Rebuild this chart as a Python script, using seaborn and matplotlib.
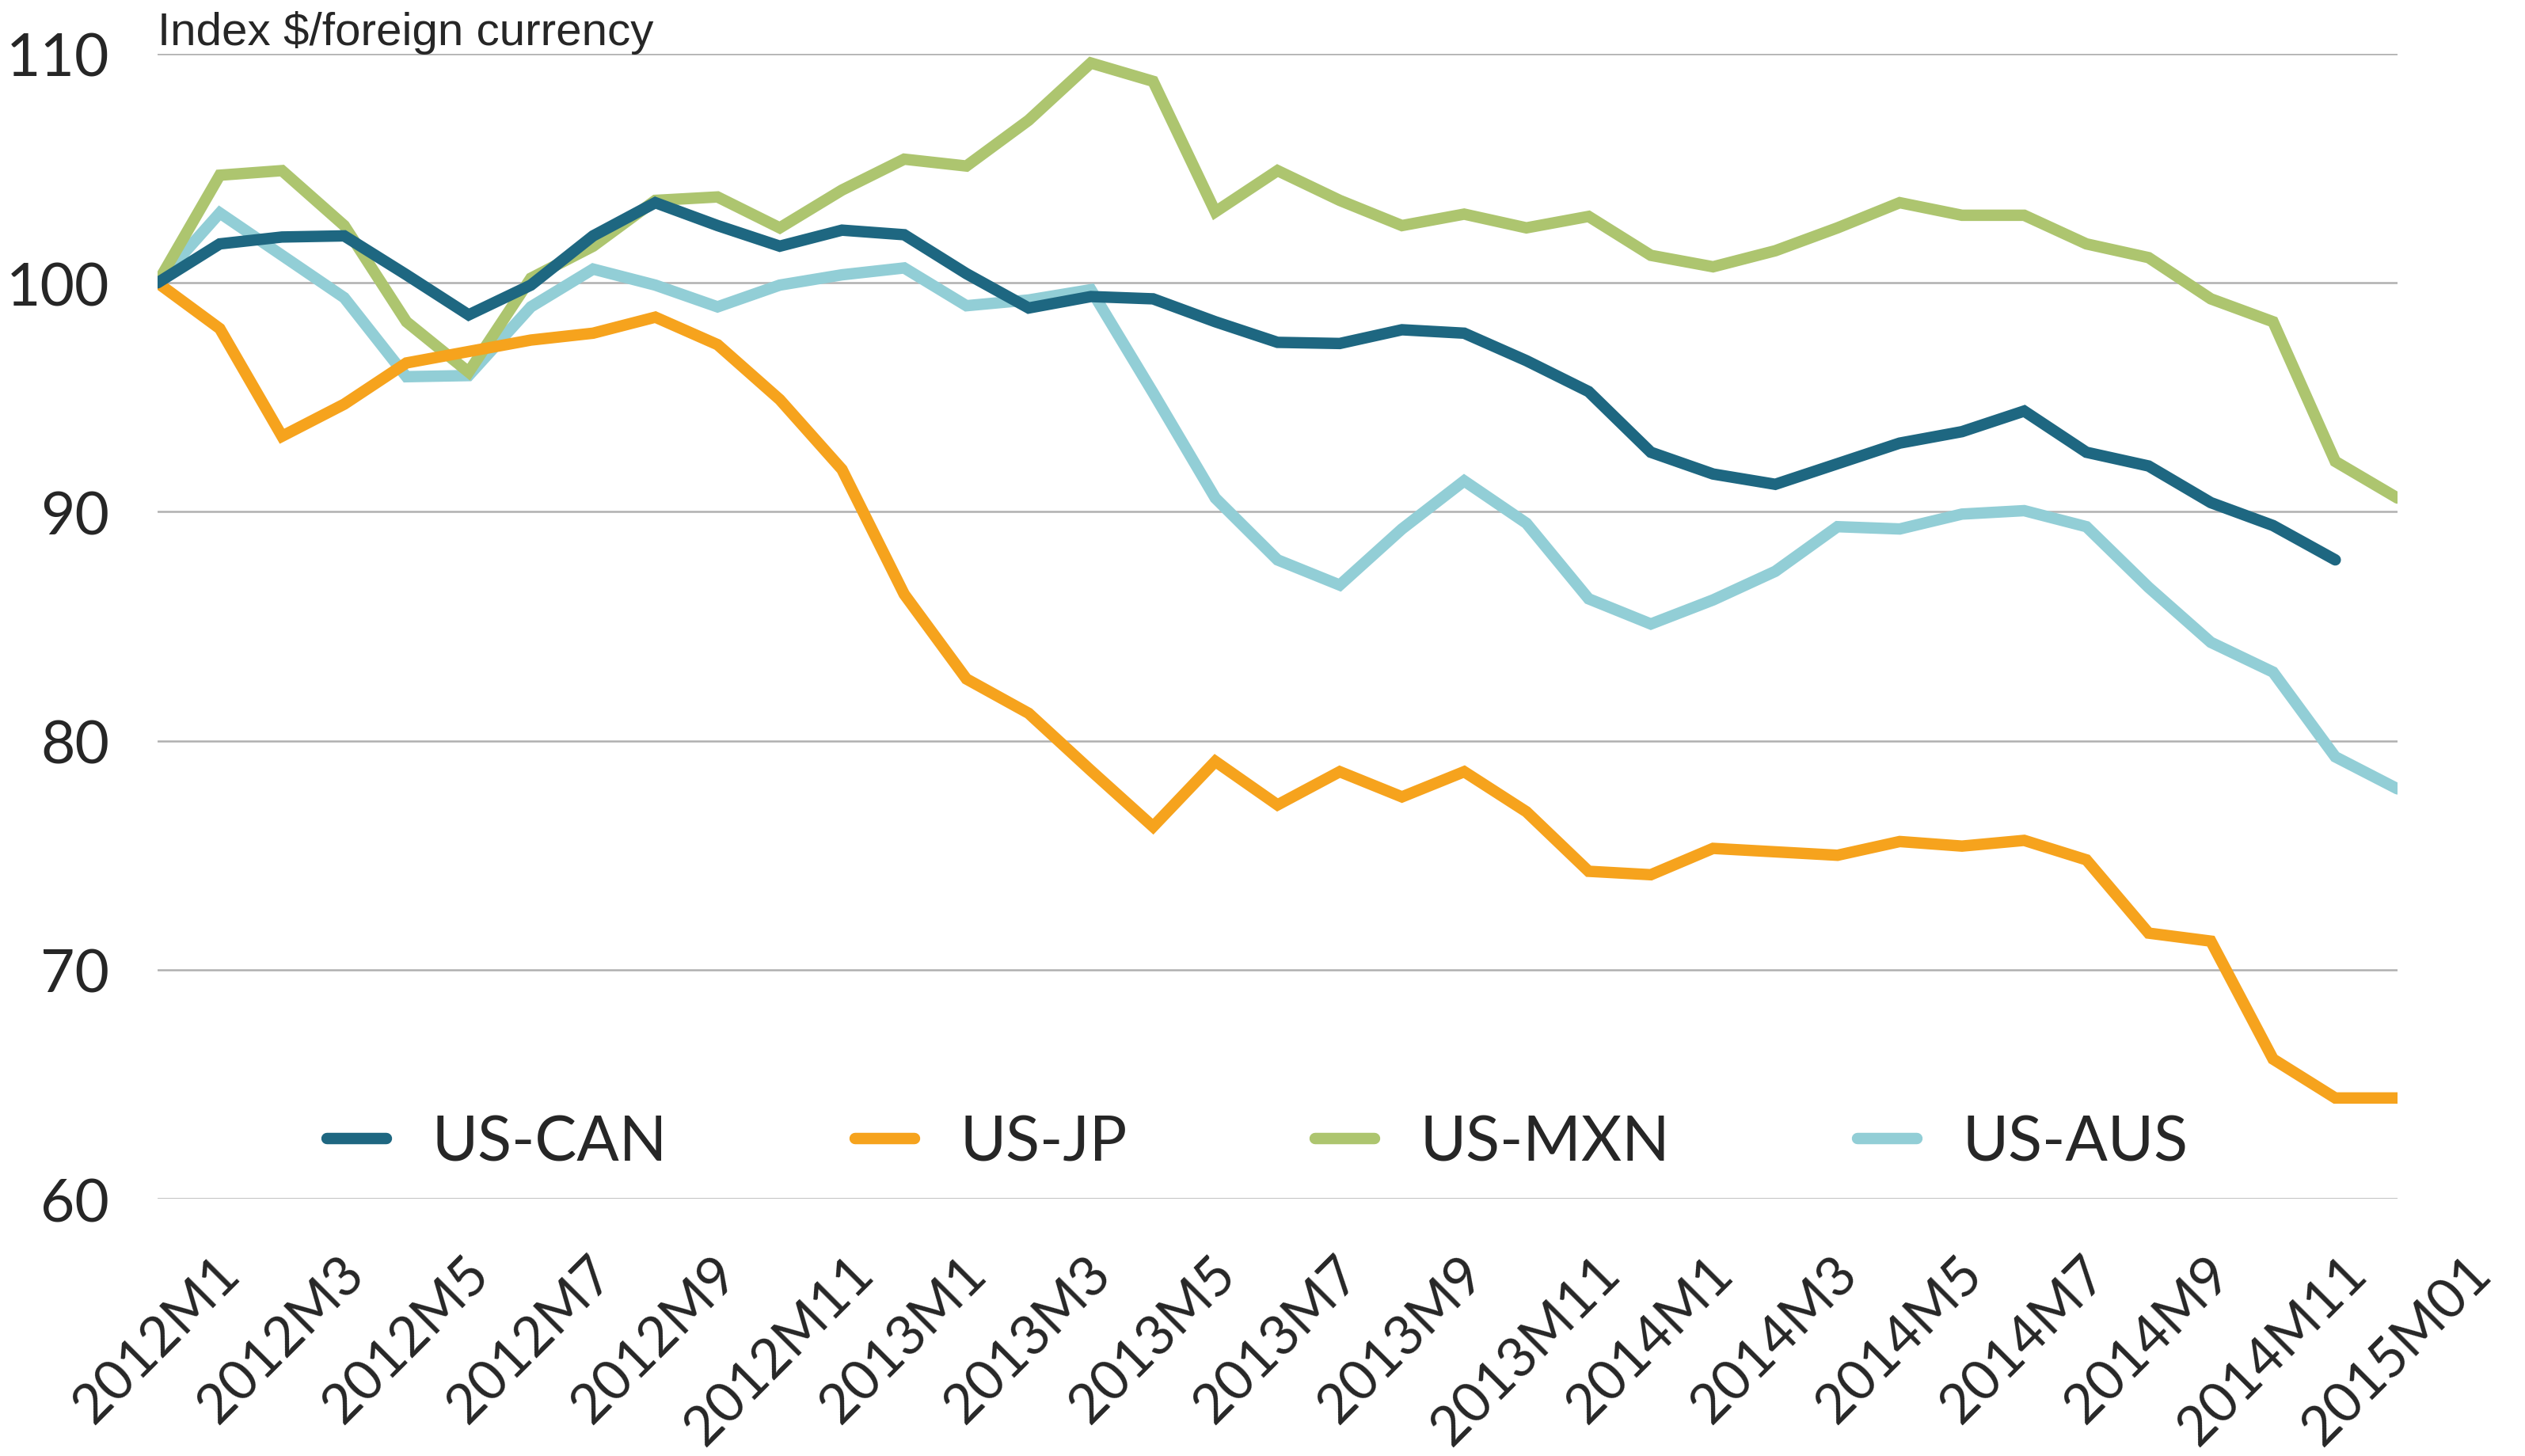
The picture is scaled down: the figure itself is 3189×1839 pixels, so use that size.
import numpy as np
import pandas as pd
import matplotlib
matplotlib.use("Agg")
import matplotlib.pyplot as plt
import seaborn as sns

# months on the x axis
months = ["2012M1", "2012M2", "2012M3", "2012M4", "2012M5", "2012M6", "2012M7",
          "2012M8", "2012M9", "2012M10", "2012M11", "2012M12",
          "2013M1", "2013M2", "2013M3", "2013M4", "2013M5", "2013M6", "2013M7",
          "2013M8", "2013M9", "2013M10", "2013M11", "2013M12",
          "2014M1", "2014M2", "2014M3", "2014M4", "2014M5", "2014M6", "2014M7",
          "2014M8", "2014M9", "2014M10", "2014M11", "2014M12", "2015M01"]

us_can = [100.0, 101.7, 102.0, 102.05, 100.35, 98.6, 99.9, 102.05, 103.5, 102.5,
          101.6, 102.3, 102.1, 100.4, 98.9, 99.4, 99.3, 98.3, 97.4, 97.35,
          97.95, 97.8, 96.6, 95.25, 92.6, 91.65, 91.2, 92.1, 93.0, 93.5,
          94.4, 92.6, 92.0, 90.4, 89.4, 87.9, np.nan]
us_jp = [100.0, 98.0, 93.3, 94.7, 96.5, 97.0, 97.5, 97.8, 98.5, 97.3,
         94.9, 91.85, 86.4, 82.7, 81.2, 78.7, 76.25, 79.1, 77.2, 78.65,
         77.55, 78.65, 76.9, 74.3, 74.15, 75.3, 75.15, 75.0, 75.6, 75.4,
         75.65, 74.8, 71.6, 71.25, 66.1, 64.4, 64.4]
us_mxn = [100.0, 104.7, 104.9, 102.5, 98.3, 96.1, 100.2, 101.6, 103.6, 103.75,
          102.4, 104.05, 105.4, 105.1, 107.1, 109.6, 108.8, 103.1, 104.9, 103.6,
          102.5, 103.0, 102.4, 102.9, 101.2, 100.7, 101.4, 102.4, 103.5, 102.95,
          102.95, 101.7, 101.1, 99.3, 98.3, 92.2, 90.6]
us_aus = [100.0, 103.05, 101.2, 99.35, 95.9, 95.95, 98.95, 100.6, 99.9, 98.95,
          99.9, 100.35, 100.65, 99.0, 99.25, 99.7, 95.2, 90.6, 87.9, 86.8,
          89.25, 91.35, 89.5, 86.2, 85.1, 86.15, 87.4, 89.35, 89.25, 89.9,
          90.05, 89.35, 86.7, 84.3, 83.0, 79.3, 77.9]

series_names = ["US-CAN", "US-JP", "US-MXN", "US-AUS"]
colors = ["#1E6781", "#F6A31D", "#ADC56F", "#92CED6"]
y_ticks = [60, 70, 80, 90, 100, 110]

df = pd.DataFrame({"t": np.arange(len(months)), "US-CAN": us_can, "US-JP": us_jp,
                   "US-MXN": us_mxn, "US-AUS": us_aus})
long_df = df.melt(id_vars="t", var_name="pair", value_name="index").dropna()

sns.set_style("white")
plt.rcParams["font.family"] = ["Lato", "DejaVu Sans"]

fig = plt.figure(figsize=(15.945, 9.2), dpi=200)
ax = fig.add_axes([0.0624, 0.1766, 0.8871, 0.7859])

sns.lineplot(data=long_df, x="t", y="index", hue="pair", hue_order=series_names,
             palette=colors, linewidth=5.2, ax=ax, legend=False, sort=False)

# drawing order: CAN on top, AUS at the bottom
for line, z in zip(ax.lines, [5, 4, 3, 2]):
    line.set_zorder(z)
    line.set_solid_joinstyle("miter")

ax.set_xlim(0, len(months) - 1)
ax.set_ylim(60, 110)
ax.set_yticks(y_ticks)
ax.set_yticklabels([str(v) for v in y_ticks])
ax.set_xticks(np.arange(0, len(months), 2))
ax.set_xticklabels(months[::2], rotation=45, ha="center", va="top")
ax.tick_params(axis="both", length=0)
ax.tick_params(axis="y", labelsize=27, pad=22)
ax.tick_params(axis="x", labelsize=25, pad=22)
ax.grid(axis="y", color="#B0B0B0", linewidth=0.9)
ax.set_axisbelow(True)
for s in ax.spines.values():
    s.set_visible(False)
ax.set_xlabel("")
ax.set_ylabel("")

handles = [plt.Line2D([], [], color=c, linewidth=5.2) for c in colors]
ax.legend(handles, series_names, ncol=4, loc="center", frameon=False,
          bbox_to_anchor=(0.498, 0.215), bbox_transform=fig.transFigure,
          fontsize=28.5, handlelength=0.95, handletextpad=0.72, columnspacing=3.0)

fig.text(199 / 3189, 1 - 57 / 1840, "Index $/foreign currency",
         family=["Liberation Sans", "DejaVu Sans"], fontsize=21, va="baseline")

fig.savefig("out.png", dpi=200)
